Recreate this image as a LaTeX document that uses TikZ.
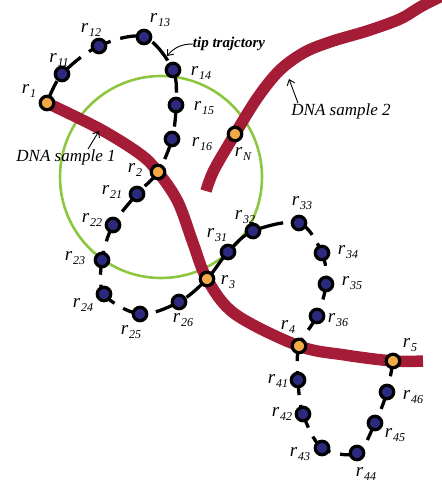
\documentclass[tikz,border=0pt]{standalone}
\usepackage{fontspec}
\setmainfont{Liberation Serif}
\usetikzlibrary{arrows.meta}
\definecolor{dnared}{HTML}{A51C36}
\definecolor{beadblue}{HTML}{2B2A7E}
\definecolor{beadorange}{HTML}{F2A947}
\definecolor{ringgreen}{HTML}{8DC63F}
\newcommand{\rlab}[1]{{\fontsize{19}{19}\selectfont\itshape r}\kern0.8pt\raisebox{-4pt}{\fontsize{12}{12}\selectfont\itshape #1}}
\begin{document}
\begin{tikzpicture}[x=1pt,y=-1pt,
  bead/.style={circle,draw=black,line width=3.2pt,fill=beadblue,minimum size=13.5pt,inner sep=0pt},
  site/.style={bead,fill=beadorange},
  lab/.style={inner sep=0pt},
  strand/.style={draw=dnared,line width=11.5pt},
  traj/.style={draw=black,line width=3.3pt,dash pattern=on 24pt off 10pt},
  note/.style={font=\fontsize{17}{17}\selectfont\itshape,inner sep=0pt},
  pointer/.style={draw=black,line width=0.9pt,-{Straight Barb[length=5pt,width=8pt]}}]
\useasboundingbox (0,0) rectangle (442,485);
% bead positions
\coordinate (p1) at (47,103);
\coordinate (p11) at (62,74);
\coordinate (p12) at (99,46);
\coordinate (p13) at (144,37);
\coordinate (p14) at (173,70);
\coordinate (p15) at (176,105);
\coordinate (p16) at (172,139);
\coordinate (p2) at (158,172);
\coordinate (p21) at (137,194);
\coordinate (p22) at (113,225);
\coordinate (p23) at (102,260);
\coordinate (p24) at (104,294);
\coordinate (p25) at (140,314);
\coordinate (p26) at (179,302);
\coordinate (p3) at (207,279);
\coordinate (p31) at (228,252);
\coordinate (p32) at (253,231);
\coordinate (p33) at (299,223);
\coordinate (p34) at (322,253);
\coordinate (p35) at (326,284);
\coordinate (p36) at (317,316);
\coordinate (p4) at (299,346);
\coordinate (p41) at (298,380);
\coordinate (p42) at (303,414);
\coordinate (p43) at (322,448);
\coordinate (p44) at (357,453);
\coordinate (p45) at (375,423);
\coordinate (p46) at (387,392);
\coordinate (p5) at (393,361);
\coordinate (pN) at (235,134);
% strand helper points
\coordinate (a1) at (100,129);
\coordinate (a2) at (140,154);
\coordinate (a3) at (178,202);
\coordinate (a4) at (193,243);
\coordinate (a5) at (235,314);
\coordinate (a6) at (345,355);
\coordinate (a7) at (423,361);
\coordinate (b1) at (206,191);
\coordinate (b2) at (214,170);
\coordinate (b3) at (258,97);
\coordinate (b4) at (280,70);
\coordinate (b5) at (305,52);
\coordinate (b6) at (333,41);
\coordinate (b7) at (367,31);
\coordinate (b8) at (400,19);
\coordinate (b9) at (422,6);
\coordinate (b10) at (450,-8);
% green ring
\node[circle,draw=ringgreen,line width=2.6pt,minimum size=202pt,inner sep=0pt] (ring) at (161,177) {};
% DNA strands
\draw[strand] plot[smooth,tension=0.55] coordinates {(p1) (a1) (a2) (p2) (a3) (a4) (p3) (a5) (p4) (a6) (p5) (a7)};
\draw[strand] plot[smooth,tension=0.55] coordinates {(b1) (b2) (pN) (b3) (b4) (b5) (b6) (b7) (b8) (b9) (b10)};
% tip trajectory
\draw[traj] plot[smooth,tension=0.55] coordinates {(p1) (p11) (p12) (p13) (p14) (p15) (p16) (p2) (p21) (p22) (p23) (p24) (p25) (p26) (p3) (p31) (p32) (p33) (p34) (p35) (p36) (p4) (p41) (p42) (p43) (p44) (p45) (p46) (p5)};
% beads
\node[site] (r1) at (p1) {};
\node[bead] (r11) at (p11) {};
\node[bead] (r12) at (p12) {};
\node[bead] (r13) at (p13) {};
\node[bead] (r14) at (p14) {};
\node[bead] (r15) at (p15) {};
\node[bead] (r16) at (p16) {};
\node[site] (r2) at (p2) {};
\node[bead] (r21) at (p21) {};
\node[bead] (r22) at (p22) {};
\node[bead] (r23) at (p23) {};
\node[bead] (r24) at (p24) {};
\node[bead] (r25) at (p25) {};
\node[bead] (r26) at (p26) {};
\node[site] (r3) at (p3) {};
\node[bead] (r31) at (p31) {};
\node[bead] (r32) at (p32) {};
\node[bead] (r33) at (p33) {};
\node[bead] (r34) at (p34) {};
\node[bead] (r35) at (p35) {};
\node[bead] (r36) at (p36) {};
\node[site] (r4) at (p4) {};
\node[bead] (r41) at (p41) {};
\node[bead] (r42) at (p42) {};
\node[bead] (r43) at (p43) {};
\node[bead] (r44) at (p44) {};
\node[bead] (r45) at (p45) {};
\node[bead] (r46) at (p46) {};
\node[site] (r5) at (p5) {};
\node[site] (rN) at (pN) {};
% labels
\node[lab] (l1) at (29,91) {\rlab{1}};
\node[lab] (l11) at (59,60) {\rlab{11}};
\node[lab] (l12) at (91,30) {\rlab{12}};
\node[lab] (l13) at (160,20) {\rlab{13}};
\node[lab] (l14) at (201,73) {\rlab{14}};
\node[lab] (l15) at (204,108) {\rlab{15}};
\node[lab] (l16) at (202,144) {\rlab{16}};
\node[lab] (l2) at (135,170) {\rlab{2}};
\node[lab] (l21) at (112,192) {\rlab{21}};
\node[lab] (l22) at (92,220) {\rlab{22}};
\node[lab] (l23) at (75,258) {\rlab{23}};
\node[lab] (l24) at (83,305) {\rlab{24}};
\node[lab] (l25) at (131,332) {\rlab{25}};
\node[lab] (l26) at (183,320) {\rlab{26}};
\node[lab] (l3) at (228,282) {\rlab{3}};
\node[lab] (l31) at (217,235) {\rlab{31}};
\node[lab] (l32) at (245,217) {\rlab{32}};
\node[lab] (l33) at (302,203) {\rlab{33}};
\node[lab] (l34) at (348,252) {\rlab{34}};
\node[lab] (l35) at (352,283) {\rlab{35}};
\node[lab] (l36) at (338,320) {\rlab{36}};
\node[lab] (l4) at (288,327) {\rlab{4}};
\node[lab] (l41) at (278,381) {\rlab{41}};
\node[lab] (l42) at (282,414) {\rlab{42}};
\node[lab] (l43) at (300,454) {\rlab{43}};
\node[lab] (l44) at (366,474) {\rlab{44}};
\node[lab] (l45) at (395,435) {\rlab{45}};
\node[lab] (l46) at (413,397) {\rlab{46}};
\node[lab] (l5) at (410,345) {\rlab{5}};
\node[lab] (lN) at (243,154) {\rlab{N}};
% notes
\node[note] (dna1) at (66,157) {DNA sample 1};
\node[note] (dna2) at (341,111) {DNA sample 2};
\node[inner sep=0pt,font=\fontsize{15}{15}\selectfont\bfseries\itshape] (tip) at (229,44) {tip trajctory};
\coordinate (e1) at (99,131);
\coordinate (e2) at (289,79);
\coordinate (e3) at (167,56);
\draw[pointer] ([xshift=22pt]dna1.north) -- (e1);
\draw[pointer] ([xshift=-43pt]dna2.north) -- (e2);
\draw[pointer] (tip.west) to[bend right=25] (e3);
\end{tikzpicture}
\end{document}
